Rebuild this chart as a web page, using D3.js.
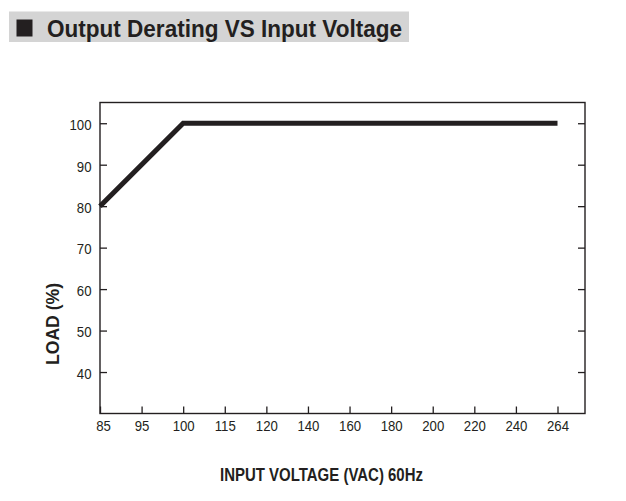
<!DOCTYPE html>
<html>
<head>
<meta charset="utf-8">
<script src="https://cdn.jsdelivr.net/npm/d3@7"></script>
<style>
  body { margin: 0; background: #fff; }
  svg { display: block; font-family: "Liberation Sans", Arial, sans-serif; }
  .tick text { font-size: 15px; fill: #231f20; }
</style>
</head>
<body>
<div id="chart"></div>
<script>
// data
const voltages = ["85", "95", "100", "115", "120", "140", "160", "180", "200", "220", "240", "264"];
const loadTicks = [40, 50, 60, 70, 80, 90, 100];
const curveVoltage = ["85", "100", "264"];
const curveLoad = [80, 100, 100];

const width = 626;
const height = 501;
const ink = "#231f20";
const narrow = 0.88; // the source font is a condensed sans

const frame = { left: 100, right: 585, top: 102.5, bottom: 413.5 };

const xScale = d3.scalePoint().domain(voltages).range([frame.left, 557.5]);
const yScale = d3.scaleLinear().domain([30, 105]).range([frame.bottom, frame.top]);

const svg = d3.select("#chart")
    .append("svg")
    .attr("width", width)
    .attr("height", height)
    .attr("viewBox", `0 0 ${width} ${height}`);

// title banner
svg.append("rect")
    .attr("x", 9).attr("y", 11.5)
    .attr("width", 400).attr("height", 30.5)
    .attr("fill", "#d4d4d4");
svg.append("rect")
    .attr("x", 16.5).attr("y", 19.5)
    .attr("width", 16).attr("height", 17)
    .attr("fill", ink);
svg.append("text")
    .attr("x", 47).attr("y", 36.5)
    .attr("font-size", 23).attr("font-weight", "bold")
    .attr("textLength", 355).attr("lengthAdjust", "spacingAndGlyphs")
    .attr("fill", ink)
    .text("Output Derating VS Input Voltage");

// frame
svg.append("rect")
    .attr("x", frame.left).attr("y", frame.top)
    .attr("width", frame.right - frame.left)
    .attr("height", frame.bottom - frame.top)
    .attr("fill", "none")
    .attr("stroke", ink)
    .attr("stroke-width", 1.4);

const xAxis = svg.append("g")
    .attr("class", "x-axis")
    .attr("transform", `translate(0, ${frame.bottom})`)
    .call(d3.axisBottom(xScale).tickSizeInner(-7).tickSizeOuter(0).tickPadding(6.5));

const yAxis = svg.append("g")
    .attr("class", "y-axis")
    .attr("transform", `translate(${frame.left}, 0)`)
    .call(d3.axisLeft(yScale).tickValues(loadTicks).tickSizeInner(-7).tickSizeOuter(0));

const yAxisRight = svg.append("g")
    .attr("class", "y-axis-right")
    .attr("transform", `translate(${frame.right}, 0)`)
    .call(d3.axisRight(yScale).tickValues(loadTicks).tickSizeInner(-7).tickSizeOuter(0));
yAxisRight.selectAll("text").remove();

svg.selectAll(".domain").remove();
svg.selectAll(".tick line").attr("stroke", ink).attr("stroke-width", 1.3);
svg.selectAll(".tick text").attr("fill", ink).attr("transform", `scale(${narrow}, 1)`);
xAxis.selectAll(".tick text").filter(d => d === "85").attr("x", 3 / narrow);
yAxis.selectAll(".tick text").attr("x", -8.5 / narrow).attr("dy", "0.42em");

// derating curve
const curve = curveVoltage.map((v, i) => ({ v, load: curveLoad[i] }));
svg.append("path")
    .datum(curve)
    .attr("fill", "none")
    .attr("stroke", ink)
    .attr("stroke-width", 5)
    .attr("stroke-linejoin", "miter")
    .attr("d", d3.line().x(d => xScale(d.v)).y(d => yScale(d.load)));

// axis titles
svg.append("text")
    .attr("x", 321.5).attr("y", 480.5)
    .attr("text-anchor", "middle")
    .attr("font-size", 17.5).attr("font-weight", "bold")
    .attr("textLength", 203).attr("lengthAdjust", "spacingAndGlyphs")
    .attr("fill", ink)
    .text("INPUT VOLTAGE (VAC) 60Hz");

svg.append("text")
    .attr("transform", "translate(59, 324) rotate(-90)")
    .attr("text-anchor", "middle")
    .attr("font-size", 17.5).attr("font-weight", "bold")
    .attr("textLength", 82).attr("lengthAdjust", "spacingAndGlyphs")
    .attr("fill", ink)
    .text("LOAD (%)");
</script>
</body>
</html>
